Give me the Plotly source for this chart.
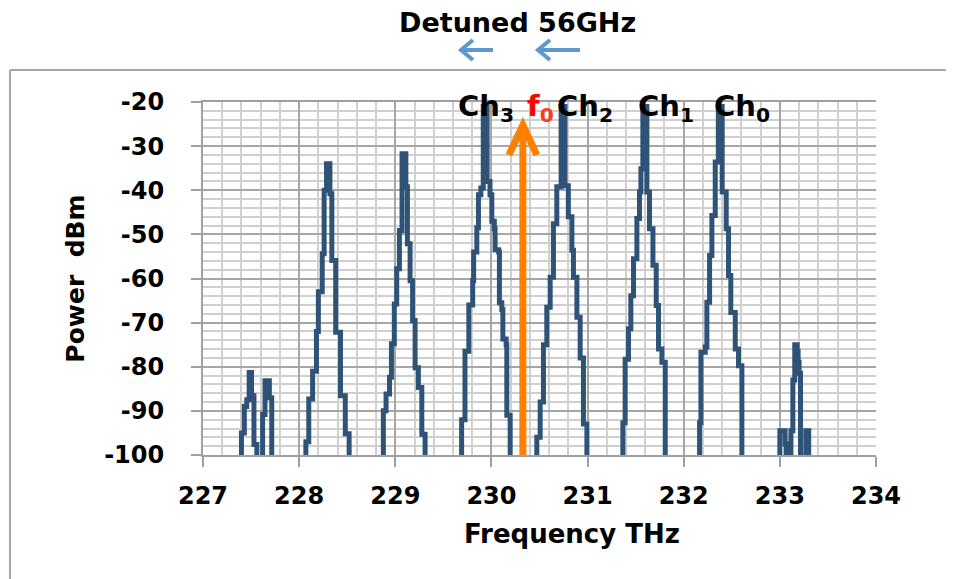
import plotly.graph_objects as go

# ---- data (sample-and-hold spectrum steps) ----
freq_thz = [
    227.00,
    # small left peaks
    227.40, 227.43, 227.455, 227.48, 227.505, 227.53, 227.56,
    227.62, 227.645, 227.69, 227.715,
    # peak ~228.3
    228.07, 228.10, 228.14, 228.18, 228.20, 228.24, 228.26, 228.285,
    228.32, 228.34, 228.38, 228.43, 228.48, 228.52,
    # peak ~229.1
    228.876, 228.904, 228.94, 228.96, 228.99, 229.015, 229.043, 229.07,
    229.11, 229.126, 229.154, 229.18, 229.206, 229.24, 229.276, 229.31,
    # Ch3
    229.69, 229.725, 229.765, 229.805, 229.815, 229.848, 229.865, 229.89, 229.915,
    229.955, 229.985, 230.004, 230.03, 230.038, 230.075, 230.083, 230.108, 230.119,
    230.153, 230.16, 230.195,
    # Ch2
    230.472, 230.507, 230.541, 230.576, 230.611, 230.645, 230.68, 230.725,
    230.765, 230.80, 230.837, 230.853, 230.889, 230.923, 230.957, 230.993,
    # Ch1
    231.367, 231.391, 231.426, 231.45, 231.478, 231.513, 231.54, 231.555, 231.575,
    231.617, 231.644, 231.68, 231.714, 231.738, 231.773, 231.808,
    # Ch0
    232.165, 232.179, 232.224, 232.241, 232.269, 232.293, 232.328, 232.36,
    232.40, 232.442, 232.466, 232.49, 232.536, 232.57, 232.605,
    # small right peaks
    233.00, 233.055, 233.065, 233.115, 233.135, 233.155, 233.18, 233.19, 233.20,
    233.215, 233.27, 233.30,
    234.00,
]
power_dbm = [
    -110,
    -95, -89, -87.5, -81.3, -86.6, -97.6, -110,
    -90.8, -83.2, -87, -110,
    -97, -87.3, -81, -72, -63, -54.4, -40, -34,
    -40.8, -55.9, -72.2, -86.6, -95.2, -110,
    -90, -86.2, -82.4, -74.8, -65.8, -57.8, -49.1, -31.7,
    -39.2, -52.1, -60.5, -69.5, -80.2, -84.7, -95.3, -110,
    -92, -76.5, -66, -60.5, -54, -48.5, -41, -39.5, -21,
    -38, -41, -47, -48.7, -53.5, -54, -65.5, -67, -73.7,
    -75, -91, -110,
    -96, -88, -75, -66.5, -59.7, -47.6, -39.2, -21,
    -39, -46, -53.6, -59.7, -68.8, -78, -93, -110,
    -92.7, -78.3, -71.4, -63.9, -55.5, -46.4, -40.4, -35.1, -21,
    -40.4, -48.7, -57, -66.1, -76, -79, -110,
    -92.7, -76.7, -75.5, -65.4, -54.8, -45.7, -33.6, -21,
    -40.4, -48.7, -59.3, -67.7, -76, -79.8, -110,
    -94.5, -97.5, -110, -94.5, -83, -75, -76.5, -79, -81.5,
    -110, -94.5, -110,
    -110,
]

x_ticks = [227, 228, 229, 230, 231, 232, 233, 234]
y_ticks = [-20, -30, -40, -50, -60, -70, -80, -90, -100]
f0_thz = 230.327

channel_labels = ["Ch<sub>3</sub>", "Ch<sub>2</sub>", "Ch<sub>1</sub>", "Ch<sub>0</sub>"]
channel_label_freq = [229.63, 230.66, 231.50, 232.29]

# ---- layout geometry (page body has an 8px margin) ----
OFF = 8
W, H = 954 - OFF, 579 - OFF
PLOT_X0, PLOT_X1, PLOT_Y0, PLOT_Y1 = 203, 876, 102, 455   # screen pixels
L = PLOT_X0 - OFF
R = W - (PLOT_X1 - OFF)
T = PLOT_Y0 - OFF
B = H - (PLOT_Y1 - OFF)
PW, PH = W - L - R, H - T - B


def px(xs):
    # screen pixel -> paper x
    return (xs - PLOT_X0) / PW


def py(ys):
    # screen pixel -> paper y
    return (PLOT_Y1 - ys) / PH


FONT = "DejaVu Sans"
TRACE = "#2E5377"
ORANGE = "#FF8000"
BLUE = "#5F97D0"

fig = go.Figure()
fig.add_trace(go.Scatter(
    x=freq_thz, y=power_dbm, mode="lines", line=dict(color=TRACE, width=5, shape="hv"),
    showlegend=False, hoverinfo="skip",
))

axis_common = dict(
    showline=True, linecolor="#A0A0A0", linewidth=2,
    gridcolor="#A6A6A6", gridwidth=2, ticks="outside", ticklen=10,
    tickcolor="#A0A0A0", tickwidth=2, zeroline=False,
    tickfont=dict(family=FONT, size=24, color="black", weight="bold"),
)
fig.update_xaxes(
    range=[227, 234], tickvals=x_ticks, ticktext=[str(v) for v in x_ticks],
    minor=dict(dtick=0.2, showgrid=True, gridcolor="#CFCFCF", gridwidth=2, ticks=""),
    ticklabelstandoff=8, mirror=True, **axis_common,
)
fig.update_yaxes(
    range=[-100, -20], tickvals=y_ticks, ticktext=[str(v) for v in y_ticks],
    minor=dict(dtick=2, showgrid=True, gridcolor="#CFCFCF", gridwidth=2, ticks=""),
    title=dict(text="<b>Power  dBm</b>", font=dict(family=FONT, size=25, color="black"), standoff=12),
    ticklabelstandoff=22, **axis_common,
)
fig.update_layout(
    width=W, height=H, autosize=False,
    margin=dict(l=L, r=R, t=T, b=B),
    plot_bgcolor="white", paper_bgcolor="white",
    font=dict(family=FONT),
)

shapes = []
# outer chart-area border (top and left edges visible)
shapes.append(dict(type="line", xref="paper", yref="paper", x0=px(10), x1=px(960), y0=py(70), y1=py(70),
                   line=dict(color="#A6A6A6", width=2)))
shapes.append(dict(type="line", xref="paper", yref="paper", x0=px(10), x1=px(10), y0=py(70), y1=py(590),
                   line=dict(color="#A6A6A6", width=2)))
# blue "detuning" arrows
for tip, tail in [(460, 493), (537, 580)]:
    shapes.append(dict(type="line", xref="paper", yref="paper", x0=px(tail), x1=px(tip + 2), y0=py(50), y1=py(50),
                       line=dict(color=BLUE, width=4)))
    shapes.append(dict(type="path", xref="paper", yref="paper",
                       path=f"M {px(tip + 13)},{py(40)} L {px(tip + 1)},{py(50)} L {px(tip + 13)},{py(60)}",
                       line=dict(color=BLUE, width=4)))
# orange f0 arrow
fx = (f0_thz - 227) / 7
shapes.append(dict(type="line", xref="paper", yref="paper", x0=fx, x1=fx, y0=0, y1=py(127),
                   line=dict(color=ORANGE, width=7), layer="above"))
dxh = 14 / PW
shapes.append(dict(type="path", xref="paper", yref="paper",
                   path=f"M {fx - dxh},{py(155)} L {fx},{py(125)} L {fx + dxh},{py(155)}",
                   line=dict(color=ORANGE, width=7), layer="above"))
fig.update_layout(shapes=shapes)

annotations = [
    dict(text="<b>Detuned 56GHz</b>", xref="paper", yref="paper", x=px(517), y=py(22),
         xanchor="center", yanchor="middle",
         showarrow=False, font=dict(family=FONT, size=27, color="black")),
    dict(text="<b>Frequency THz</b>", xref="paper", yref="paper", x=px(572), y=py(534),
         xanchor="center", yanchor="middle",
         showarrow=False, font=dict(family=FONT, size=26, color="black")),
]
for lab, f in zip(channel_labels, channel_label_freq):
    annotations.append(dict(text=f"<b>{lab}</b>", xref="x", yref="paper", x=f, y=py(108),
                            xanchor="left", yanchor="middle", showarrow=False,
                            font=dict(family=FONT, size=29, color="black")))
annotations.append(dict(text="<b>f<sub><span style='color:#FF3A1A'>0</span></sub></b>", xref="x", yref="paper",
                        x=f0_thz + 0.02, y=py(108), xanchor="left", yanchor="middle", showarrow=False,
                        font=dict(family=FONT, size=29, color="#FF0000")))
fig.update_layout(annotations=annotations)

fig.write_html("out.html")
